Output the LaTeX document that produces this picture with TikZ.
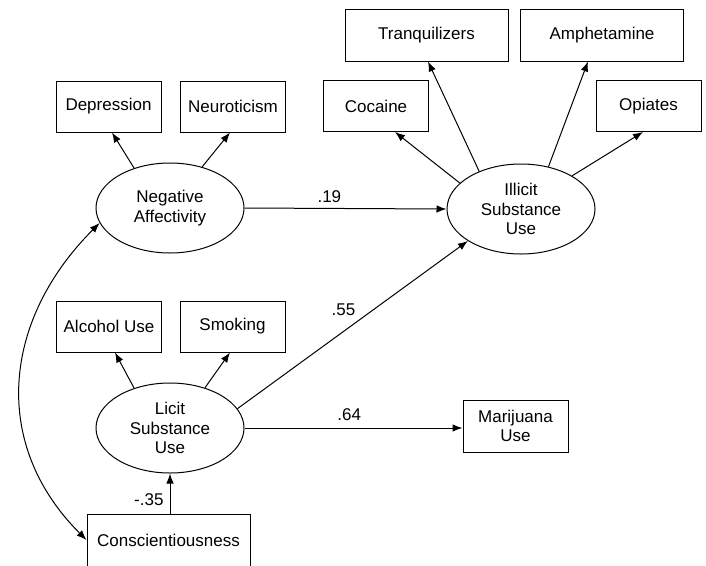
\documentclass[tikz,border=0pt]{standalone}
\usepackage{fontspec}
\setmainfont{Liberation Sans}
\usetikzlibrary{shapes.geometric,arrows.meta}

\tikzset{
  ind/.style={draw, rectangle, minimum width=105pt, minimum height=51pt, inner sep=0pt, align=center},
  widebox/.style={ind, minimum width=163pt, minimum height=52pt},
  lat/.style={draw, ellipse, minimum width=148pt, minimum height=90pt, inner sep=0pt, align=center},
  arr/.style={-{Latex[length=10pt,width=7.5pt]}},
  dbl/.style={{Latex[length=10pt,width=7.5pt]}-{Latex[length=10pt,width=7.5pt]}},
  coef/.style={inner sep=2pt}
}

\begin{document}
\begin{tikzpicture}[x=1pt,y=1pt,line width=1pt,
  every node/.append style={font=\fontsize{17}{19.5}\selectfont}]
\useasboundingbox (0,0) rectangle (706,-565);

% latent variables
\node[lat] (na) at (170,-208) {Negative\\Affectivity};
\node[lat] (li) at (170,-428) {Licit\\Substance\\Use};
\node[lat] (ill) at (521,-209) {Illicit\\Substance\\Use};

% indicators
\node[ind] (dep) at (108.5,-106.5) {Depression};
\node[ind] (neu) at (233,-106.5) {Neuroticism};
\node[ind] (alc) at (109,-326.5) {Alcohol Use};
\node[ind] (smo) at (232.5,-326.5) {Smoking};
\node[ind] (coc) at (376,-106) {Cocaine};
\node[ind] (opi) at (648.5,-106) {Opiates};
\node[widebox] (tra) at (426.5,-35) {Tranquilizers};
\node[widebox] (amp) at (602,-35) {Amphetamine};
\node[ind, minimum height=52pt] (mar) at (515.5,-426) {Marijuana\\Use};
\node[widebox] (con) at (168.5,-540) {Conscientiousness};

% loadings
\draw[arr] (na.132) -- ([xshift=3.5pt]dep.south);
\draw[arr] (na.52) -- ([xshift=-3pt]neu.south);
\draw[arr] (li.132) -- ([xshift=6pt]alc.south);
\draw[arr] (li.49) -- ([xshift=-2.5pt]smo.south);
\draw[arr] (ill.157) -- ([xshift=19pt]coc.south);
\draw[arr] (ill.138) -- ([xshift=1.5pt]tra.south);
\draw[arr] (ill.57) -- ([xshift=-14pt]amp.south);
\draw[arr] (ill.33) -- ([xshift=-5.5pt]opi.south);

% structural paths
\draw[arr] (na.east) -- node[coef, pos=0.42, above=3pt] {.19} (ill.west);
\draw[arr] (li.16) -- node[coef, pos=0.46, above=13pt] {.55} (ill.211);
\draw[arr] (li.east) -- node[coef, pos=0.48, above=5pt] {.64} (li.east -| mar.west);
\draw[arr] (li.south |- con.north) -- node[coef, pos=0.34, left=4pt] {-.35} (li.south);

% covariance
\draw[dbl] (na.192) to[out=225, in=135, looseness=1.1] (con.west);
\end{tikzpicture}
\end{document}
